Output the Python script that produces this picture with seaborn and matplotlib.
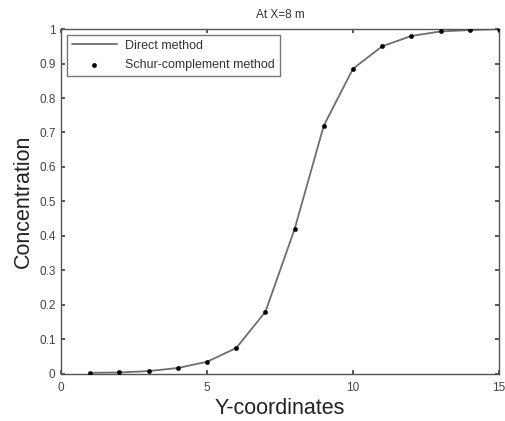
import matplotlib
matplotlib.use("Agg")
import matplotlib.pyplot as plt
import seaborn as sns
import pandas as pd

y_coords = [1, 2, 3, 4, 5, 6, 7, 8, 9, 10, 11, 12, 13, 14, 15]
direct = [0.003, 0.004, 0.008, 0.017, 0.035, 0.075, 0.18, 0.42, 0.72, 0.885, 0.95, 0.98, 0.993, 0.997, 1.0]
schur = [0.003, 0.004, 0.008, 0.017, 0.035, 0.075, 0.18, 0.42, 0.72, 0.885, 0.95, 0.98, 0.993, 0.997, 1.0]

sns.set_theme(style="white")
plt.rcParams['font.family'] = ['Liberation Sans', 'DejaVu Sans']

df = pd.DataFrame({"y": y_coords, "direct": direct, "schur": schur})

fig = plt.figure(figsize=(5.05, 4.21), dpi=100)
ax = fig.add_axes([0.121, 0.112, 0.867, 0.819])

sns.lineplot(data=df, x="y", y="direct", ax=ax, color="#6e6e6e", linewidth=1.3, label="Direct method")
sns.scatterplot(data=df, x="y", y="schur", ax=ax, color="black", s=10, marker="o", edgecolor="black",
                label="Schur-complement method", zorder=3)

ax.set_xlim(0, 15)
ax.set_ylim(0, 1)
ax.set_xticks([0, 5, 10, 15])
ax.set_yticks([i / 10 for i in range(11)])
ax.set_yticklabels(["0", "0.1", "0.2", "0.3", "0.4", "0.5", "0.6", "0.7", "0.8", "0.9", "1"])
ax.tick_params(direction="in", length=3, labelsize=8.5, colors="#444444", top=True, right=True,
               bottom=True, left=True)
ax.tick_params(axis="x", pad=6)
ax.tick_params(axis="y", pad=4)
for s in ax.spines.values():
    s.set_color("#555555")
    s.set_linewidth(1.0)

ax.set_xlabel("Y-coordinates", fontsize=15.5, color="#222222", labelpad=3)
ax.set_ylabel("Concentration", fontsize=15.5, color="#222222", labelpad=4)
ax.set_title("At X=8 m", fontsize=8.5, color="#333333", pad=8)

leg = ax.legend(loc="upper left", fontsize=9, frameon=True, fancybox=False,
                edgecolor="#555555", borderaxespad=0.45, handlelength=3.6, borderpad=0.4,
                labelspacing=0.6, handletextpad=0.7)
leg.get_frame().set_linewidth(1.0)
for t in leg.get_texts():
    t.set_color("#333333")

fig.savefig("out.png", dpi=100)
